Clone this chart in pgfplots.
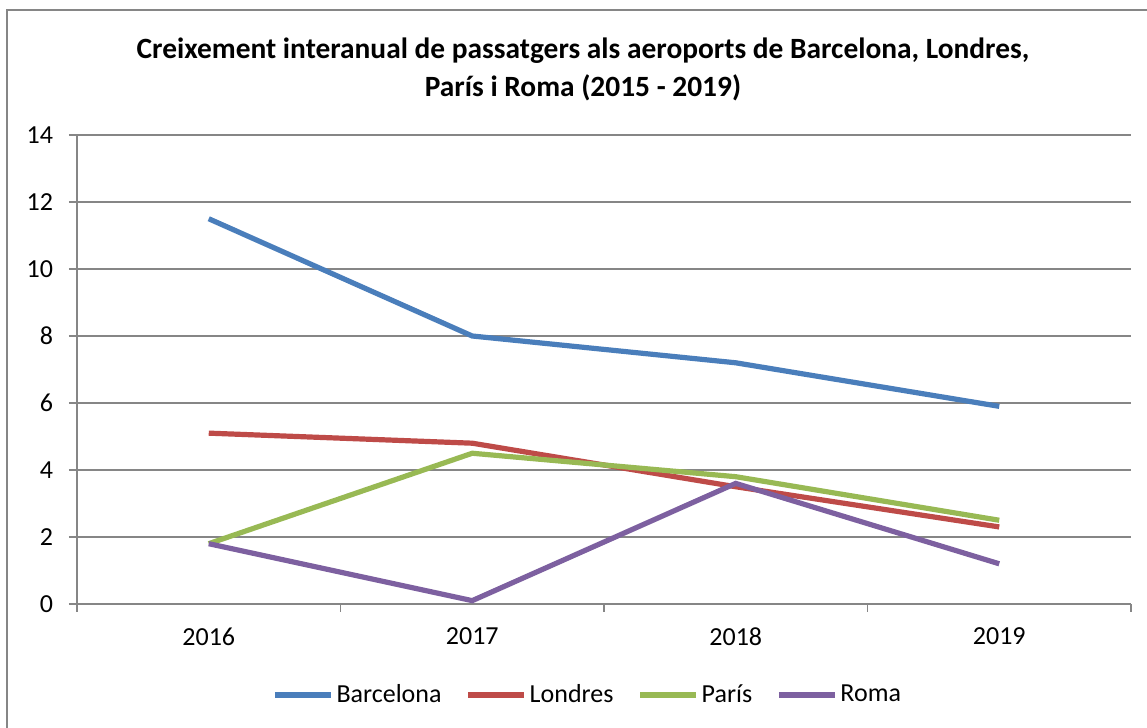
\documentclass[border=0pt]{standalone}
\usepackage{fontspec}
\setmainfont{Carlito}
\usepackage{pgfplots}
\pgfplotsset{compat=1.18}

\definecolor{cBarcelona}{HTML}{4A7EBB}
\definecolor{cLondres}{HTML}{BE4B48}
\definecolor{cParis}{HTML}{98B954}
\definecolor{cRoma}{HTML}{7D60A0}
\definecolor{gridgray}{HTML}{868686}

\begin{document}
\begin{tikzpicture}
\useasboundingbox (0,0) rectangle (573.5pt,364pt);
% chart frame (only left and top edges are in view)
\draw[gridgray, line width=0.8pt] (3.5pt,0pt) -- (3.5pt,359pt) -- (580pt,359pt);
\node[align=center, font=\fontsize{14.7}{19}\selectfont\bfseries] at (291.5pt,329.5pt)
  {Creixement interanual de passatgers als aeroports de Barcelona, Londres,\\
   París i Roma (2015 - 2019)};
\begin{axis}[
  at={(38.5pt,62pt)}, anchor=south west,
  scale only axis,
  width=527pt, height=234.5pt,
  xmin=0.5, xmax=4.5,
  ymin=0, ymax=14,
  ytick={0,2,...,14},
  xtick={0.5,1.5,2.5,3.5,4.5},
  xticklabels={},
  extra x ticks={1,2,3,4},
  extra x tick labels={2016,2017,2018,2019},
  extra x tick style={major tick length=0pt, grid=none,
    xticklabel style={yshift=-8.5pt}},
  axis x line=bottom, axis y line=left,
  axis line style={-, gridgray, line width=0.8pt},
  ymajorgrids,
  major grid style={gridgray, line width=0.75pt},
  tick style={gridgray, line width=0.8pt},
  tick align=outside,
  major tick length=4pt,
  ticklabel style={font=\fontsize{13}{16}\selectfont},
  yticklabel style={xshift=-4.5pt},
  /pgf/number format/assume math mode=true,
  legend columns=4,
  legend style={draw=none, fill=none, at={(0.4845,-0.194)}, anchor=center,
    font=\fontsize{13}{16}\selectfont,
    nodes={inner xsep=1pt},
    /tikz/every even column/.append style={column sep=11pt},
    /tikz/every odd column/.append style={column sep=0.5pt}},
  legend image code/.code={\draw[#1] (0pt,0pt) -- (28pt,0pt);},
  every axis plot/.append style={line width=2.6pt},
]
\addplot[cBarcelona] coordinates {(1,11.5) (2,8.0) (3,7.2) (4,5.9)};
\addlegendentry{Barcelona}
\addplot[cLondres] coordinates {(1,5.1) (2,4.8) (3,3.5) (4,2.3)};
\addlegendentry{Londres}
\addplot[cParis] coordinates {(1,1.8) (2,4.5) (3,3.8) (4,2.5)};
\addlegendentry{París}
\addplot[cRoma] coordinates {(1,1.8) (2,0.1) (3,3.6) (4,1.2)};
\addlegendentry{Roma}
\end{axis}
\end{tikzpicture}
\end{document}
